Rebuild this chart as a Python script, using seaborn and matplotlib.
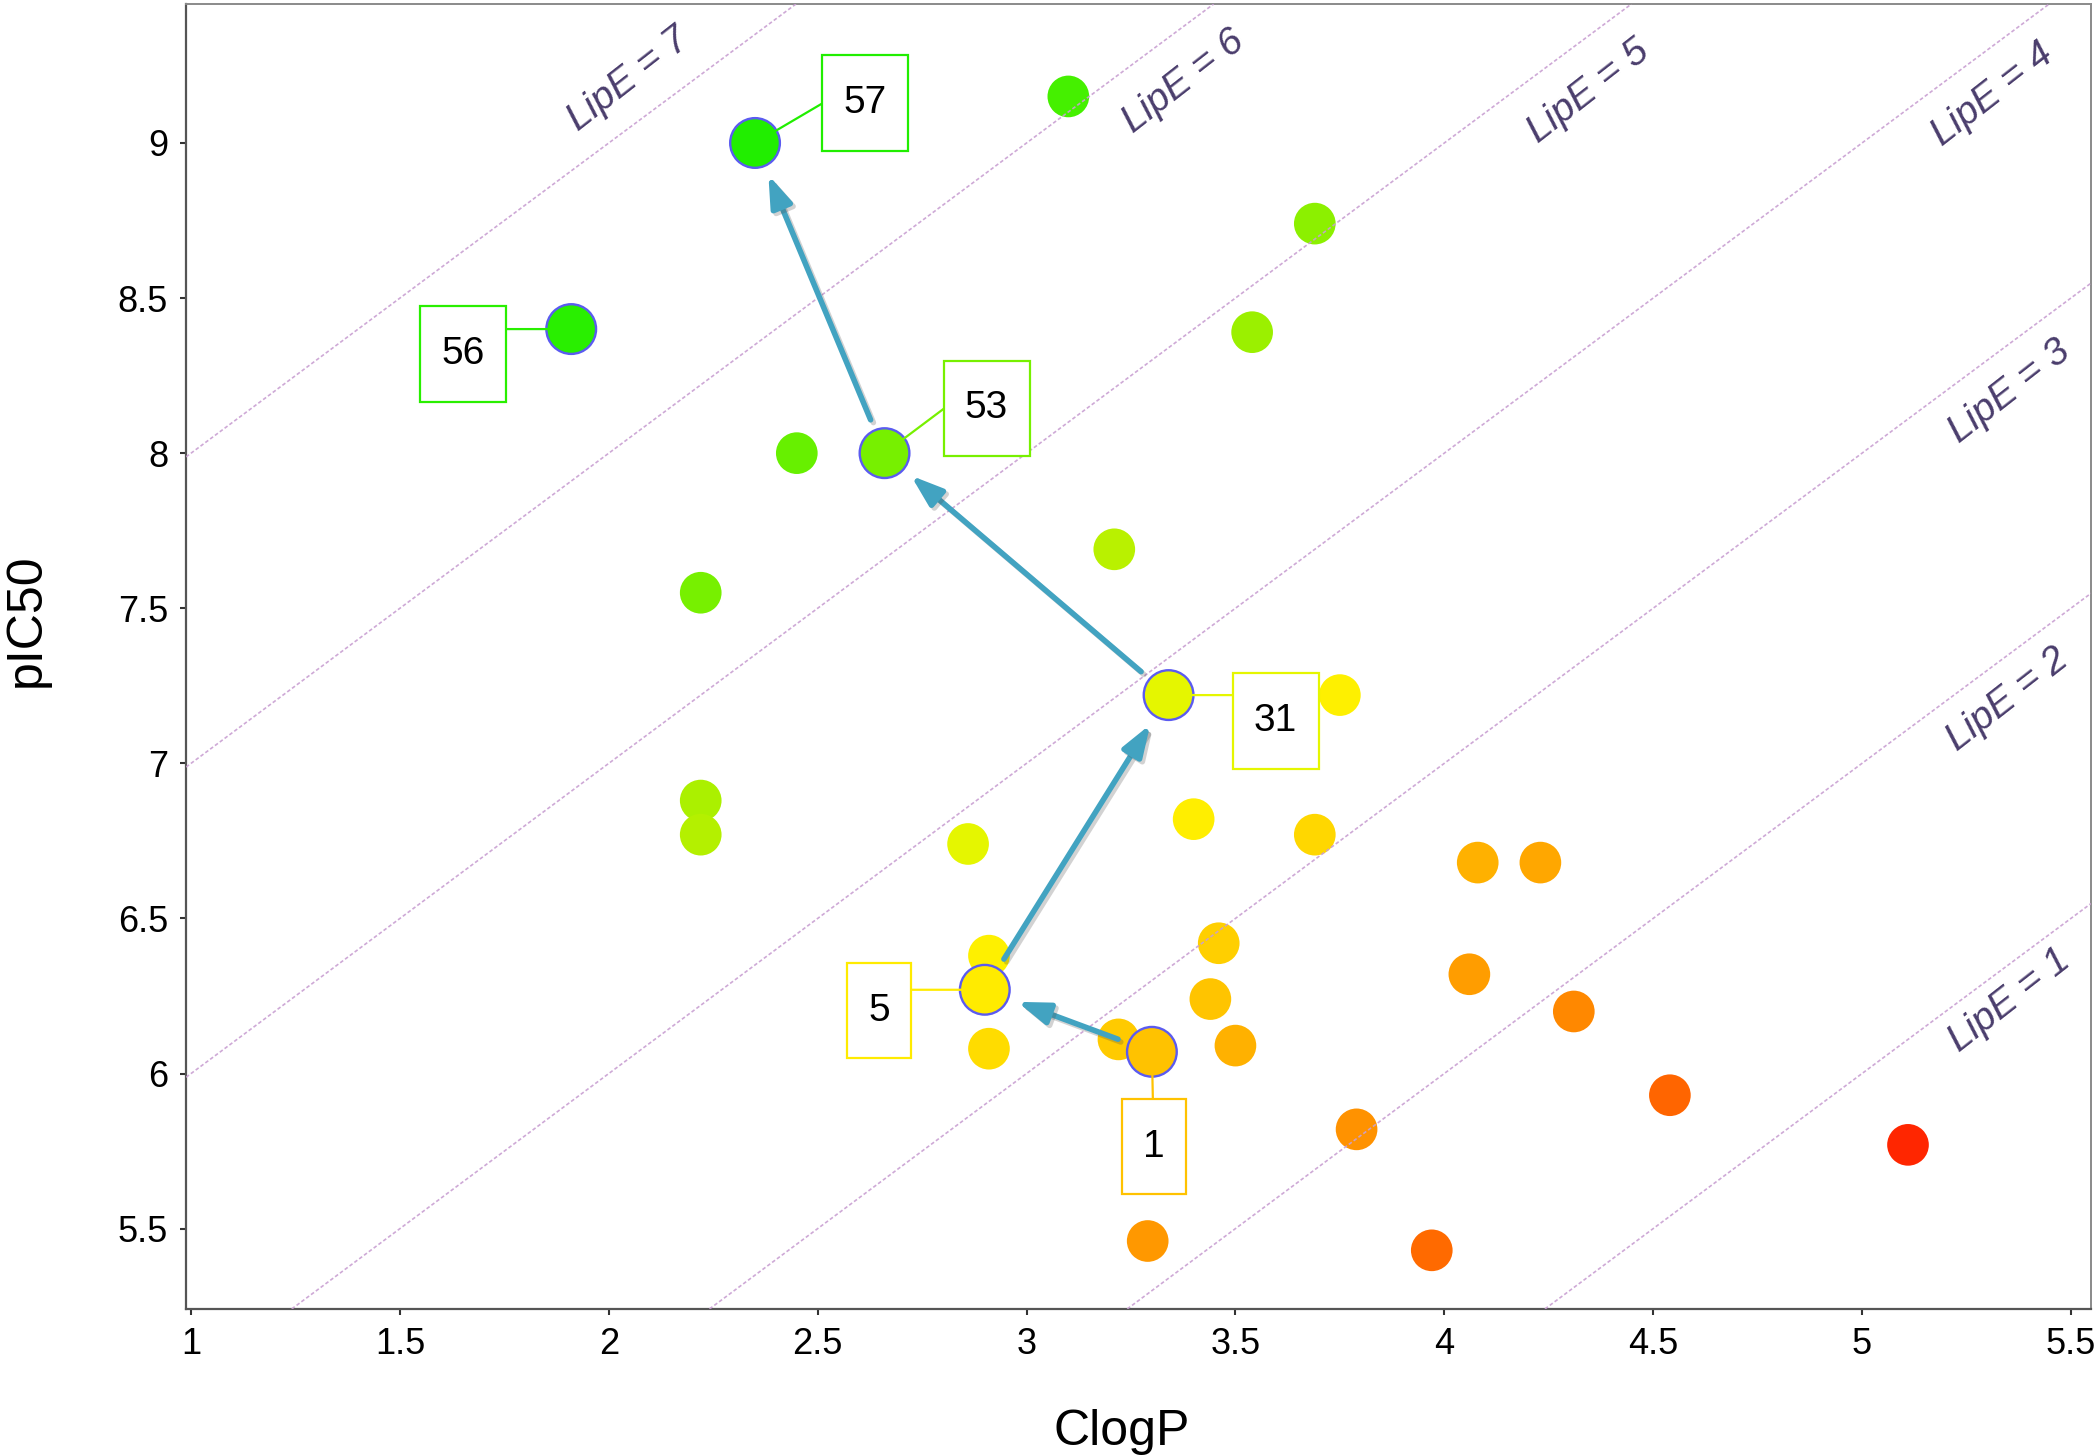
import numpy as np
import pandas as pd
import seaborn as sns
import matplotlib.pyplot as plt
from matplotlib.colors import LinearSegmentedColormap, Normalize
from matplotlib.path import Path
from matplotlib import patheffects as pe

# compound data (cpd = "" for unlabelled points)
clogp = [3.10, 2.35, 1.91, 3.69, 3.54, 2.45, 2.66, 2.22, 3.21, 3.34, 3.75,
         2.22, 2.22, 2.86, 3.40, 3.69, 4.08, 4.23, 2.91, 2.90, 2.91, 3.46,
         3.44, 3.50, 3.22, 3.30, 4.06, 4.31, 4.54, 3.79, 3.29, 3.97, 5.11]
pic50 = [9.15, 9.00, 8.40, 8.74, 8.39, 8.00, 8.00, 7.55, 7.69, 7.22, 7.22,
         6.88, 6.77, 6.74, 6.82, 6.77, 6.68, 6.68, 6.38, 6.27, 6.08, 6.42,
         6.24, 6.09, 6.11, 6.07, 6.32, 6.20, 5.93, 5.82, 5.46, 5.43, 5.77]
cpd = ["", "57", "56", "", "", "", "53", "", "", "31", "",
       "", "", "", "", "", "", "", "", "5", "",  "",
       "", "", "", "1", "", "", "", "", "", "", ""]

# optimisation route drawn with arrows
route = ["1", "5", "31", "53", "57"]

# LipE = pIC50 - ClogP reference lines
lipe_levels = [1, 2, 3, 4, 5, 6, 7]

xticks = [1, 1.5, 2, 2.5, 3, 3.5, 4, 4.5, 5, 5.5]
yticks = [5.5, 6, 6.5, 7, 7.5, 8, 8.5, 9]

df = pd.DataFrame({"ClogP": clogp, "pIC50": pic50, "cpd": cpd})
df["LipE"] = df["pIC50"] - df["ClogP"]

# colour scale on LipE: red (low) -> yellow -> green (high)
lo, hi = 0.6, 6.7
anchors = [(0.6, "#ff2200"), (1.4, "#ff6600"), (2.0, "#ff9000"), (2.5, "#ffaa00"),
           (2.8, "#ffc400"), (3.1, "#ffd800"), (3.45, "#fff000"), (3.9, "#e4f600"),
           (4.6, "#b0f000"), (5.0, "#90f000"), (5.4, "#72f000"), (6.0, "#48f000"),
           (6.7, "#1eee00")]
cmap = LinearSegmentedColormap.from_list(
    "lipe", [((v - lo) / (hi - lo), c) for v, c in anchors])
norm = Normalize(lo, hi)

sns.set_theme(style="ticks")
plt.rcParams["font.family"] = ["Liberation Sans", "DejaVu Sans"]

fig, ax = plt.subplots(figsize=(21, 14.56), dpi=100)
fig.subplots_adjust(left=0.0886, right=0.9957, bottom=0.101, top=0.99725)

plain = df[df["cpd"] == ""]
marked = df[df["cpd"] != ""]
sns.scatterplot(data=plain, x="ClogP", y="pIC50", hue="LipE", palette=cmap,
                hue_norm=norm, s=900, linewidth=0, legend=False, ax=ax, zorder=3)
sns.scatterplot(data=marked, x="ClogP", y="pIC50", hue="LipE", palette=cmap,
                hue_norm=norm, s=1280, edgecolor="#5b5bf0", linewidth=1.7,
                legend=False, ax=ax, zorder=4)

ax.set_xlim(0.988, 5.548)
ax.set_ylim(5.241, 9.448)

for k in lipe_levels:
    ax.axline((0, k), slope=1, color="#c9a0d2", lw=1.2, ls=(0, (2.2, 1.4)),
              alpha=0.9, zorder=4.5)

# LipE line labels
lipe_text_pos = {7: (2.048, 9.203), 6: (3.375, 9.198), 5: (4.346, 9.164),
                 4: (5.312, 9.157), 3: (5.352, 8.197), 2: (5.348, 7.205),
                 1: (5.352, 6.235)}
for k in lipe_levels:
    tx, ty = lipe_text_pos[k]
    ax.text(tx, ty, f"LipE = {k}", rotation=38, rotation_mode="anchor",
            ha="center", va="center", fontsize=28, style="italic",
            color="#4a3d6c", zorder=6)

# arrows along the optimisation route
pos = marked.set_index("cpd")
for a, b in zip(route[:-1], route[1:]):
    ax.annotate("", xy=(pos.loc[b, "ClogP"], pos.loc[b, "pIC50"]),
                xytext=(pos.loc[a, "ClogP"], pos.loc[a, "pIC50"]),
                arrowprops=dict(arrowstyle="-|>,head_length=0.95,head_width=0.33",
                                mutation_scale=20, color="#42a3c1", lw=4,
                                shrinkA=26, shrinkB=25,
                                path_effects=[pe.SimpleLineShadow(offset=(2, -2),
                                                                  shadow_color="0.3",
                                                                  alpha=0.25),
                                              pe.Normal()]),
                zorder=5)


def tall_box(x0, y0, width, height, mutation_size):
    # square box with fixed height, used for compound labels
    padx = 0.55 * mutation_size
    pady = max((2.45 * mutation_size - height) / 2, 0)
    xa, xb = x0 - padx, x0 + width + padx
    ya, yb = y0 - pady, y0 + height + pady
    return Path([(xa, ya), (xb, ya), (xb, yb), (xa, yb), (xa, ya)], closed=True)


# label box centre and connector end, in pixels from the marker
label_offset = {"57": (110, 40), "56": (-108, -25), "53": (102, 45),
                "31": (107, -26), "5": (-106, -21), "1": (2, -95)}
link_end = {"57": (68, 40), "56": (-66, 0), "53": (60, 45),
            "31": (65, 0), "5": (-75, 0), "1": (1, -48)}
for name, row in pos.iterrows():
    col = cmap(norm(row["LipE"]))
    xy = (row["ClogP"], row["pIC50"])
    ax.annotate("", xy=xy, xytext=link_end[name], textcoords="offset pixels",
                arrowprops=dict(arrowstyle="-", color=col, lw=1.6, shrinkA=0,
                                shrinkB=16),
                zorder=5.5)
    ax.annotate(name, xy=xy, xytext=label_offset[name],
                textcoords="offset pixels", ha="center", va="center",
                fontsize=28, color="black",
                bbox=dict(boxstyle=tall_box, fc="white", ec=col, lw=1.6),
                zorder=6)

ax.set_xticks(xticks)
ax.set_xticklabels([f"{v:g}" for v in xticks])
ax.set_yticks(yticks)
ax.set_yticklabels([f"{v:g}" for v in yticks])
ax.tick_params(axis="both", direction="out", length=4, width=1.5, color="#333333",
               labelsize=26, pad=9, labelcolor="black")

for side in ["left", "bottom"]:
    ax.spines[side].set_color("#555555")
    ax.spines[side].set_linewidth(1.6)
for side in ["top", "right"]:
    ax.spines[side].set_visible(True)
    ax.spines[side].set_color("#8a8a8a")
    ax.spines[side].set_linewidth(1.4)

ax.set_xlabel("ClogP", fontsize=36, color="black")
ax.set_ylabel("pIC50", fontsize=36, color="black")
ax.xaxis.set_label_coords(0.491, -0.077)
ax.yaxis.set_label_coords(-0.0714, 0.528)

fig.savefig("out.png", dpi=100)
